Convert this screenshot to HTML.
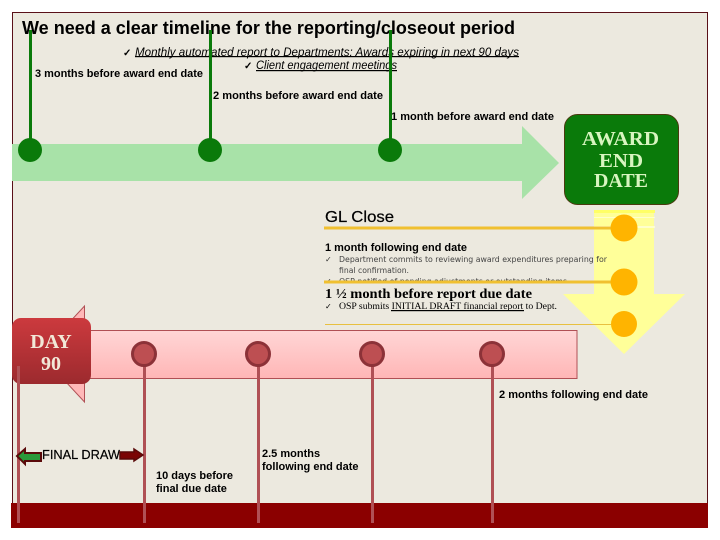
<!DOCTYPE html>
<html><head><meta charset="utf-8">
<style>
html,body{margin:0;padding:0;background:#fff;width:720px;height:540px;overflow:hidden}
svg{display:block}
text{font-family:"Liberation Sans",sans-serif;font-weight:bold;fill:#000}
.s{font-family:"Liberation Serif",serif}
</style></head><body>
<svg width="720" height="540" viewBox="0 0 720 540" xmlns="http://www.w3.org/2000/svg">
<defs>
<linearGradient id="p" x1="0" y1="0" x2="0" y2="1"><stop offset="0" stop-color="#ffd6d6"/><stop offset="1" stop-color="#ffb6b6"/></linearGradient>
<linearGradient id="d" x1="0" y1="0" x2="0" y2="1"><stop offset="0" stop-color="#cc3a3e"/><stop offset="1" stop-color="#9c2a2e"/></linearGradient>
</defs>
<rect x="12.5" y="12.5" width="695" height="515" fill="#ece9df" stroke="#5a1018" stroke-width="1"/>
<rect x="11" y="503" width="697" height="25" fill="#8b0000"/>

<!-- green arrow -->
<polygon points="12,144 522,144 522,126 559,163 522,199 522,181 12,181" fill="#a8e2a8"/>

<text x="22" y="34" font-size="18" textLength="493" lengthAdjust="spacingAndGlyphs">We need a clear timeline for the reporting/closeout period</text>
<text x="123" y="56" font-size="10">✓</text>
<text x="135" y="56" font-size="12" style="font-weight:normal;font-style:italic" textLength="384" lengthAdjust="spacingAndGlyphs">Monthly automated report to Departments:  Awards expiring in next 90 days</text>
<rect x="135" y="56" width="384" height="1.2" fill="#000"/>
<text x="244" y="69" font-size="10">✓</text>
<text x="256" y="69" font-size="12" style="font-weight:normal;font-style:italic" textLength="141" lengthAdjust="spacingAndGlyphs">Client engagement meetings</text>
<rect x="256" y="70" width="141" height="1.2" fill="#000"/>
<text x="35" y="77" font-size="11" textLength="168" lengthAdjust="spacingAndGlyphs">3 months before award end date</text>
<text x="213" y="99" font-size="11" textLength="170" lengthAdjust="spacingAndGlyphs">2 months before award end date</text>
<text x="391" y="120" font-size="11" textLength="163" lengthAdjust="spacingAndGlyphs">1 month before award end date</text>

<!-- green pins -->
<g fill="#0a7a0a">
<rect x="29" y="30" width="3" height="120"/><circle cx="30" cy="150" r="12"/>
<rect x="209" y="30" width="3" height="120"/><circle cx="210" cy="150" r="12"/>
<rect x="389" y="30" width="3" height="120"/><circle cx="390" cy="150" r="12"/>
</g>

<!-- award box -->
<rect x="564.5" y="114.5" width="114" height="90" rx="13" fill="#0a7a0a" stroke="#4a3a10" stroke-width="1"/>
<text class="s" x="582" y="145" font-size="20" style="fill:#d8f5c0" textLength="77" lengthAdjust="spacingAndGlyphs">AWARD</text>
<text class="s" x="599" y="167" font-size="20" style="fill:#d8f5c0" textLength="44" lengthAdjust="spacingAndGlyphs">END</text>
<text class="s" x="594" y="187" font-size="20" style="fill:#d8f5c0" textLength="54" lengthAdjust="spacingAndGlyphs">DATE</text>

<!-- yellow arrow -->
<polygon points="594,210 654,210 654,294 685,294 624,354 563,294 594,294" fill="#ffff99"/>
<rect x="594" y="210" width="61" height="3" fill="#ffff66"/>
<rect x="594" y="217" width="61" height="1" fill="#ffffcc"/>
<rect x="594" y="226" width="61" height="2" fill="#ffffcc"/>

<!-- GL section -->
<text x="325" y="222" font-size="16" style="font-weight:normal" stroke="#000" stroke-width="0.2" textLength="69" lengthAdjust="spacingAndGlyphs">GL Close</text>
<text x="325" y="251" font-size="11" textLength="142" lengthAdjust="spacingAndGlyphs">1 month following end date</text>
<text x="325" y="262" font-size="8" style="font-weight:normal;fill:#333">✓</text>
<text x="339" y="262" font-size="8" style="font-family:'DejaVu Sans',sans-serif;font-weight:normal;fill:#444" textLength="268" lengthAdjust="spacingAndGlyphs">Department commits to reviewing award expenditures preparing for</text>
<text x="339" y="273" font-size="8" style="font-family:'DejaVu Sans',sans-serif;font-weight:normal;fill:#444" textLength="70" lengthAdjust="spacingAndGlyphs">final confirmation.</text>
<text x="325" y="284" font-size="8" style="font-weight:normal;fill:#333">✓</text>
<text x="339" y="284" font-size="8" style="font-family:'DejaVu Sans',sans-serif;font-weight:normal;fill:#444" textLength="228" lengthAdjust="spacingAndGlyphs">OSP notified of pending adjustments or outstanding items</text>
<rect x="324" y="283" width="245" height="5" fill="#ece9df"/>
<rect x="324" y="226.500" width="290" height="3" fill="#f0c030"/>
<rect x="324" y="280.500" width="290" height="3" fill="#f0c030"/>
<rect x="325" y="324" width="290" height="1" fill="#e8c040"/>
<g fill="#ffb400">
<circle cx="624" cy="228" r="13.500"/><circle cx="624" cy="282" r="13.500"/><circle cx="624" cy="324" r="13"/>
</g>
<text class="s" x="325" y="298" font-size="13.500" textLength="207" lengthAdjust="spacingAndGlyphs">1 ½ month before report due date</text>
<text x="325" y="309" font-size="8" style="font-weight:normal">✓</text>
<text x="339" y="309" font-size="9" style="font-family:'Liberation Serif',serif;font-weight:normal" textLength="218" lengthAdjust="spacingAndGlyphs">OSP submits INITIAL DRAFT financial report to Dept.</text>
<rect x="391" y="310" width="133" height="1.2" fill="#000"/>

<!-- pink bar and callout -->
<polygon points="84.500,306 84.500,402 40,354" fill="#ffb8b8" stroke="#b05055" stroke-width="1"/>
<rect x="85" y="330.500" width="492" height="48" fill="url(#p)" stroke="#b05055" stroke-width="1"/>
<rect x="12" y="318" width="79" height="66" rx="9" fill="url(#d)"/>
<text class="s" x="51" y="348" font-size="20" text-anchor="middle" style="fill:#f2e8d8">DAY</text>
<text class="s" x="51" y="370" font-size="20" text-anchor="middle" style="fill:#f2e8d8">90</text>

<!-- red pins -->
<g fill="#b05055">
<rect x="17" y="366" width="3" height="157"/>
<rect x="143" y="366" width="3" height="157"/>
<rect x="257" y="366" width="3" height="157"/>
<rect x="371" y="366" width="3" height="157"/>
<rect x="491" y="366" width="3" height="157"/>
</g>
<g fill="#bd4f52" stroke="#8c3238" stroke-width="3">
<circle cx="144" cy="354" r="11.500"/><circle cx="258" cy="354" r="11.500"/>
<circle cx="372" cy="354" r="11.500"/><circle cx="492" cy="354" r="11.500"/>
</g>

<text x="499" y="398" font-size="11" textLength="149" lengthAdjust="spacingAndGlyphs">2 months following end date</text>
<text x="42" y="459" font-size="13" style="font-weight:normal" stroke="#000" stroke-width="0.2" textLength="78" lengthAdjust="spacingAndGlyphs">FINAL DRAW</text>
<polygon points="17,456 25,449 25,453 41,453 41,461 25,461 25,464" fill="#2a9a3a" stroke="#5a0a0a" stroke-width="2"/>
<polygon points="120,452 134,452 134,449 143,455 134,461 134,459 120,459" fill="#7a0505" stroke="#5a0a0a" stroke-width="1.500"/>
<text x="156" y="479" font-size="11">10 days before</text>
<text x="156" y="492" font-size="11">final due date</text>
<text x="262" y="457" font-size="11">2.5 months</text>
<text x="262" y="470" font-size="11">following end date</text>
</svg>
</body></html>
